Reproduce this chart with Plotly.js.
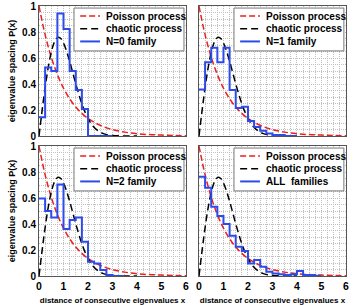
<!DOCTYPE html>
<html>
<head>
<meta charset="utf-8">
<script src="https://cdn.plot.ly/plotly-3.0.1.min.js"></script>
<style>html,body{margin:0;padding:0;background:#fff;}#chart{width:353px;height:305px;}</style>
</head>
<body>
<div id="chart"></div>
<script>
// ---- data ----
const binWidth = 0.25;
const familyNames = ['N=0 family', 'N=1 family', 'N=2 family', 'ALL\u00a0 families'];
const curveNames = ['Poisson process', 'chaotic process'];

const histN0  = [0.144, 0.528, 0.500, 0.944, 0.823, 0.500, 0.354, 0.208, 0, 0, 0, 0];
const histN1  = [0.359, 0.567, 0.679, 0.567, 0.679, 0.354, 0.215, 0.225, 0.115, 0.070, 0.040, 0.020, 0.008, 0.008, 0, 0];
const histN2  = [0.597, 0.500, 0.451, 0.705, 0.362, 0.431, 0.451, 0.264, 0.110, 0.097, 0.046, 0.008, 0, 0];
const histAll = [0.764, 0.679, 0.533, 0.462, 0.400, 0.310, 0.226, 0.192, 0.097, 0.123, 0.072, 0.033, 0.020, 0.013, 0.008, 0.013, 0.038, 0.008, 0.008, 0];

const poissonX = [0, 0.25, 0.5, 0.75, 1, 1.25, 1.5, 1.75, 2, 2.5, 3, 3.5, 4, 4.5, 5, 5.5, 6];
const poissonY = [1, 0.779, 0.607, 0.472, 0.368, 0.287, 0.223, 0.174, 0.135, 0.082, 0.050, 0.030, 0.018, 0.011, 0.007, 0.004, 0.0025];

const chaoticX = [0, 0.1, 0.2, 0.3, 0.4, 0.5, 0.6, 0.7, 0.8, 0.9, 1.0, 1.1, 1.2, 1.3, 1.4, 1.5, 1.6, 1.7, 1.8, 1.9, 2.0, 2.2, 2.4, 2.6, 2.8, 3.0, 3.3, 3.6, 4.0];
const chaoticY = [0, 0.156, 0.304, 0.439, 0.554, 0.645, 0.710, 0.749, 0.760, 0.748, 0.716, 0.668, 0.608, 0.542, 0.472, 0.402, 0.337, 0.276, 0.222, 0.175, 0.136, 0.077, 0.041, 0.020, 0.009, 0.004, 0.001, 0.0002, 0];

const xTickVals = [0, 1, 2, 3, 4, 5, 6];
const yTickVals = [0, 0.2, 0.4, 0.6, 0.8, 1];

// ---- build ----
const hists = [histN0, histN1, histN2, histAll];
const suffix = ['', '2', '3', '4'];
const RED = 'rgb(235,30,30)', BLACK = '#000', BLUE = 'rgb(45,75,235)';
const FONT = 'Liberation Sans, Arial, Helvetica, sans-serif';

function stepXY(vals) {
  const xs = [], ys = [];
  vals.forEach((v, i) => { xs.push(i * binWidth); ys.push(v); });
  xs.push(vals.length * binWidth); ys.push(vals[vals.length - 1]);
  return {xs, ys};
}

const traces = [];
hists.forEach((h, i) => {
  const xa = 'x' + suffix[i], ya = 'y' + suffix[i];
  traces.push({x: poissonX, y: poissonY, xaxis: xa, yaxis: ya, mode: 'lines', name: curveNames[0],
    line: {color: RED, width: 1.5, dash: '6px,3px', shape: 'spline'}, showlegend: false, hoverinfo: 'skip'});
  traces.push({x: chaoticX, y: chaoticY, xaxis: xa, yaxis: ya, mode: 'lines', name: curveNames[1],
    line: {color: BLACK, width: 1.5, dash: '7px,4px', shape: 'spline'}, showlegend: false, hoverinfo: 'skip'});
  const s = stepXY(h);
  traces.push({x: s.xs, y: s.ys, xaxis: xa, yaxis: ya, mode: 'lines', name: familyNames[i],
    line: {color: BLUE, width: 2, shape: 'hv'}, showlegend: false, hoverinfo: 'skip'});
});

const xDomains = [[0.1105, 0.527], [0.5637, 0.980]];
const yDomains = [[0.554, 0.980], [0.095, 0.521]];
const GRID = 'rgb(192,192,192)';
const GDASH = '1px,1px';

const layout = {
  width: 353, height: 305,
  margin: {l: 0, r: 0, t: 0, b: 0},
  paper_bgcolor: '#fff', plot_bgcolor: '#fff',
  showlegend: false,
  font: {family: FONT, size: 10, color: '#000', weight: 'bold'},
  shapes: [], annotations: []
};

for (let i = 0; i < 4; i++) {
  const col = i % 2, row = Math.floor(i / 2);
  const s = suffix[i];
  const xa = {
    domain: xDomains[col], range: [0, 6], anchor: 'y' + s,
    tickvals: xTickVals, showticklabels: row === 1, ticks: '',
    showgrid: true, gridcolor: GRID, griddash: GDASH, gridwidth: 1,
    minor: {dtick: 0.25, showgrid: true, gridcolor: GRID, griddash: GDASH, gridwidth: 1},
    showline: true, linecolor: '#555', linewidth: 1, mirror: true, zeroline: false,
    tickfont: {family: FONT, size: 10.5, weight: 'bold'}
  };
  if (row === 1) {
    xa.title = {text: 'distance of consecutive eigenvalues x', font: {family: FONT, size: 8, weight: 'bold'}, standoff: 6};
  }
  const ya = {
    domain: yDomains[row], range: [0, 1], anchor: 'x' + s,
    tickvals: yTickVals, showticklabels: col === 0, ticks: '',
    showgrid: true, gridcolor: GRID, griddash: GDASH, gridwidth: 1,
    minor: {dtick: 0.05, showgrid: true, gridcolor: GRID, griddash: GDASH, gridwidth: 1},
    showline: true, linecolor: '#555', linewidth: 1, mirror: true, zeroline: false,
    tickfont: {family: FONT, size: 10, weight: 'bold'}
  };
  if (col === 0) {
    ya.title = {text: 'eigenvalue spacing P(x)', font: {family: FONT, size: 9, weight: 'bold'}, standoff: 4};
  }
  layout['xaxis' + s] = xa;
  layout['yaxis' + s] = ya;

  // manual legend box
  const xr = 'x' + s + ' domain', yr = 'y' + s + ' domain';
  layout.shapes.push({type: 'rect', xref: xr, yref: yr, x0: 0.238, x1: 0.986, y0: 0.655, y1: 0.985,
    fillcolor: '#fff', line: {color: '#777', width: 1}});
  const rowsY = [0.923, 0.825, 0.728];
  const cols = [RED, BLACK, BLUE];
  const dashes = ['6px,3px', '7px,4px', 'solid'];
  const labels = [curveNames[0], curveNames[1], familyNames[i]];
  for (let k = 0; k < 3; k++) {
    layout.shapes.push({type: 'line', xref: xr, yref: yr, x0: 0.28, x1: 0.415, y0: rowsY[k], y1: rowsY[k],
      line: {color: cols[k], width: k === 2 ? 2 : 1.5, dash: dashes[k]}});
    layout.annotations.push({xref: xr, yref: yr, x: 0.44, y: rowsY[k], xanchor: 'left', yanchor: 'middle',
      text: labels[k], showarrow: false, font: {family: FONT, size: 10, weight: 'bold', color: '#000'}});
  }
}

Plotly.newPlot('chart', traces, layout, {staticPlot: true, displayModeBar: false});
</script>
</body>
</html>
